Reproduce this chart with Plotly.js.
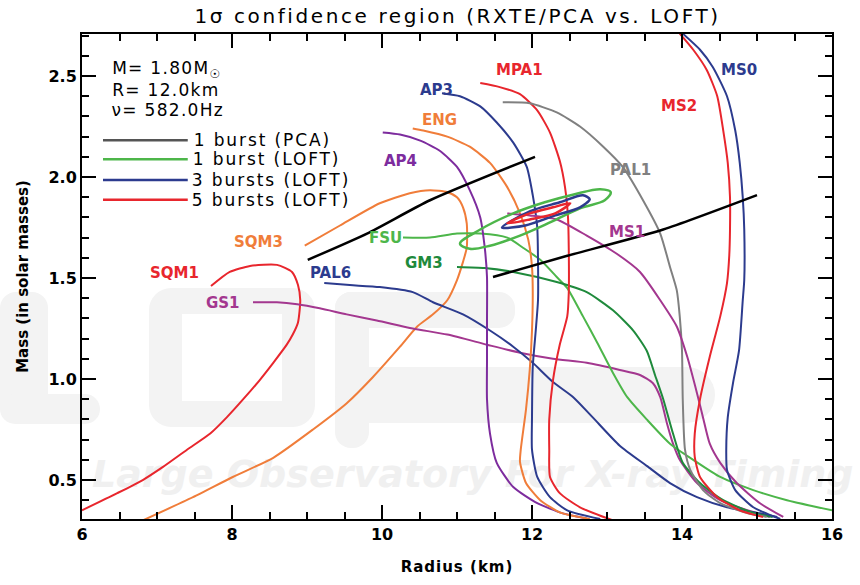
<!DOCTYPE html>
<html>
<head>
<meta charset="utf-8">
<script src="https://cdn.plot.ly/plotly-3.0.1.min.js"></script>
<style>
  html, body { margin:0; padding:0; background:#ffffff; }
  #wrap { position:relative; width:860px; height:585px; overflow:hidden; }
  #wm { position:absolute; left:92px; top:452px; white-space:nowrap; font-family:"DejaVu Sans", sans-serif; font-weight:bold; font-style:italic; font-size:38px; color:#f0f0f0; z-index:0; }
  .blk { position:absolute; background:#f3f3f3; z-index:0; border-radius:16px; }
  .ring { position:absolute; border:solid #f3f3f3; border-width:26px 33px; border-radius:22px; background:transparent; z-index:0; box-sizing:border-box; }
  #chart { position:absolute; left:0; top:0; width:860px; height:585px; z-index:1; }
</style>
</head>
<body>
<div id="wrap">
  <div class="blk" style="left:0px; top:292px; width:48px; height:130px;"></div>
  <div class="blk" style="left:0px; top:394px; width:100px; height:30px;"></div>
  <div class="ring" style="left:149px; top:288px; width:166px; height:139px;"></div>
  <div class="blk" style="left:335px; top:292px; width:34px; height:156px;"></div>
  <div class="blk" style="left:335px; top:292px; width:180px; height:36px;"></div>
  <div class="blk" style="left:335px; top:367px; width:380px; height:56px; border-radius:28px;"></div>
  <div id="wm">Large Observatory For X-ray Timing</div>
  <div id="chart"></div>
</div>
<script>
// ---- Mass-radius curves (Radius in km, Mass in solar masses) ----
const sqm1R = [7.72,7.97,8.24,8.60,8.80,8.88,8.91,8.88,8.81,8.73,8.55,8.37,8.15,7.93,7.71,7.40,7.08,6.81,6.47,6.00];
const sqm1M = [1.46,1.53,1.56,1.565,1.53,1.465,1.39,1.28,1.22,1.17,1.08,0.995,0.90,0.81,0.73,0.65,0.565,0.50,0.435,0.35];

const sqm3R = [8.97,9.44,9.97,10.37,10.64,10.87,11.00,11.08,11.13,11.13,11.08,11.00,10.87,10.68,10.47,10.24,9.88,9.53,9.08,8.55,8.01,7.48,6.81];
const sqm3M = [1.66,1.76,1.87,1.92,1.935,1.925,1.90,1.85,1.77,1.65,1.58,1.49,1.39,1.32,1.26,1.16,1.01,0.88,0.75,0.61,0.515,0.415,0.30];

const gs1R = [8.28,8.60,8.87,9.17,9.53,9.93,10.41,10.87,11.40,11.84,12.28,12.73,13.17,13.44,13.61,13.71,13.80,13.88,13.97,14.20,14.51,14.87,15.17];
const gs1M = [1.38,1.38,1.37,1.35,1.32,1.29,1.25,1.22,1.17,1.13,1.10,1.08,1.045,1.02,0.98,0.91,0.78,0.68,0.60,0.485,0.40,0.35,0.317];

const pal6R = [9.23,9.57,9.97,10.41,10.68,11.08,11.44,11.75,12.01,12.28,12.55,12.81,13.17,13.53,13.84,14.20,14.60,15.04,15.27];
const pal6M = [1.475,1.465,1.455,1.43,1.38,1.32,1.24,1.16,1.08,0.985,0.91,0.81,0.67,0.57,0.485,0.415,0.365,0.335,0.317];

const fsuR = [10.28,10.64,11.00,11.31,11.67,11.88,12.11,12.33,12.47,12.68,12.87,13.08,13.27,13.53,13.84,14.15,14.51,14.95,15.40,16.00];
const fsuM = [1.70,1.70,1.72,1.72,1.70,1.65,1.59,1.505,1.45,1.31,1.18,1.03,0.91,0.80,0.68,0.60,0.515,0.45,0.40,0.35];

const gm3R = [11.00,11.37,11.75,12.33,12.73,13.08,13.35,13.53,13.64,13.75,13.88,14.01,14.24,14.55,14.95,15.21];
const gm3M = [1.555,1.55,1.53,1.48,1.43,1.34,1.24,1.14,1.02,0.90,0.73,0.585,0.485,0.40,0.337,0.317];

const ap4R = [10.01,10.24,10.51,10.77,11.00,11.17,11.31,11.37,11.40,11.40,11.40,11.40,11.44,11.53,11.75,12.07,12.41,12.73];
const ap4M = [2.22,2.21,2.18,2.13,2.05,1.935,1.80,1.65,1.505,1.29,1.09,0.90,0.73,0.585,0.465,0.385,0.335,0.31];

const engR = [10.41,10.55,10.87,11.17,11.44,11.67,11.84,11.95,12.00,12.01,12.00,11.97,11.92,11.85,11.84,11.92,12.11,12.37,12.77];
const engM = [2.24,2.23,2.20,2.15,2.07,1.95,1.82,1.69,1.555,1.43,1.24,1.045,0.85,0.65,0.59,0.485,0.40,0.34,0.307];

const ap3R = [10.80,11.04,11.31,11.53,11.75,11.93,12.01,12.07,12.08,12.08,12.05,12.01,12.00,12.00,12.07,12.24,12.47,12.91];
const ap3M = [2.415,2.40,2.35,2.27,2.17,2.05,1.91,1.75,1.59,1.39,1.24,1.06,0.81,0.65,0.515,0.415,0.35,0.307];

const mpa1R = [11.31,11.57,11.84,12.07,12.24,12.37,12.44,12.48,12.49,12.49,12.47,12.37,12.28,12.23,12.23,12.24,12.37,12.64,13.08];
const mpa1M = [2.465,2.445,2.41,2.33,2.22,2.08,1.95,1.80,1.65,1.425,1.31,1.17,0.995,0.80,0.65,0.515,0.435,0.365,0.30];

const pal1R = [11.61,11.97,12.33,12.64,12.95,13.21,13.48,13.71,13.84,13.93,13.97,14.00,14.01,14.04,14.11,14.28,14.51,14.87,15.13];
const pal1M = [2.37,2.365,2.32,2.25,2.15,2.05,1.885,1.72,1.555,1.44,1.31,1.14,0.90,0.65,0.55,0.45,0.385,0.337,0.317];

const ms1R = [11.67,11.97,12.33,12.73,13.13,13.44,13.71,13.93,14.07,14.20,14.28,14.37,14.51,14.73,15.04,15.35];
const ms1M = [1.82,1.81,1.79,1.71,1.62,1.53,1.39,1.26,1.11,0.93,0.81,0.68,0.585,0.485,0.385,0.317];

const ms2R = [13.97,14.15,14.33,14.47,14.55,14.61,14.64,14.64,14.63,14.60,14.51,14.37,14.24,14.17,14.17,14.24,14.47,14.77,15.08];
const ms2M = [2.71,2.63,2.53,2.40,2.23,2.07,1.90,1.74,1.61,1.475,1.31,1.11,0.90,0.73,0.615,0.515,0.415,0.35,0.317];

const ms0R = [14.01,14.24,14.41,14.60,14.71,14.77,14.81,14.83,14.83,14.81,14.76,14.68,14.61,14.59,14.60,14.71,14.95,15.31];
const ms0M = [2.71,2.63,2.545,2.40,2.23,2.07,1.90,1.74,1.49,1.39,1.14,0.98,0.81,0.65,0.55,0.45,0.365,0.307];

// ---- PCA constraint lines (1 burst) ----
const pcaLoR = [11.48,12.47,13.75,15.00];
const pcaLoM = [1.505,1.61,1.74,1.91];
const pcaHiR = [9.01,9.80,10.64,12.04];
const pcaHiM = [1.59,1.72,1.885,2.10];

// ---- LOFT confidence contours ----
const loft1R = [11.04,11.31,11.75,12.17,12.57,12.91,13.05,12.97,12.64,12.24,11.84,11.44,11.17,11.04];
const loft1M = [1.67,1.74,1.82,1.875,1.915,1.94,1.925,1.885,1.845,1.775,1.71,1.66,1.645,1.67];
const loft3R = [11.60,11.97,12.37,12.68,12.77,12.64,12.31,11.91,11.60];
const loft3M = [1.75,1.83,1.875,1.91,1.89,1.85,1.81,1.76,1.75];
const loft5R = [11.67,11.97,12.28,12.51,12.31,11.97,11.67];
const loft5M = [1.77,1.82,1.85,1.87,1.82,1.79,1.77];

// ---- Labels ----
const eosNames = ['SQM1','SQM3','GS1','PAL6','FSU','GM3','AP4','ENG','AP3','MPA1','PAL1','MS1','MS2','MS0'];
const eosLabelR = [7.23,8.35,7.88,9.31,10.04,10.56,10.24,10.76,10.73,11.83,13.31,13.27,13.96,14.76];
const eosLabelM = [1.525,1.68,1.375,1.525,1.70,1.575,2.08,2.28,2.43,2.53,2.035,1.73,2.35,2.53];
const legendNames = ['1 burst (PCA)','1 burst (LOFT)','3 bursts (LOFT)','5 bursts (LOFT)'];
const infoLines = ['M= 1.80M<sub>☉</sub>','R= 12.0km','ν= 582.0Hz'];

const C = {
  red:'#e8262d', orange:'#f07d3a', blue:'#2c3b8e', purple:'#7d2c9e', magenta:'#a3378f',
  green:'#4db64a', dgreen:'#1f8a3c', gray:'#808080', black:'#000000', lgray:'#555555'
};

function line(x, y, color, w) {
  return {x:x, y:y, type:'scatter', mode:'lines', line:{color:color, width:w||2, shape:'spline', smoothing:0.6},
          hoverinfo:'skip', showlegend:false, cliponaxis:true};
}

const traces = [
  line(sqm1R, sqm1M, C.red),
  line(sqm3R, sqm3M, C.orange),
  line(gs1R, gs1M, C.magenta),
  line(pal6R, pal6M, C.blue),
  line(fsuR, fsuM, C.green),
  line(gm3R, gm3M, C.dgreen),
  line(ap4R, ap4M, C.purple),
  line(engR, engM, C.orange),
  line(ap3R, ap3M, C.blue),
  line(mpa1R, mpa1M, C.red),
  line(pal1R, pal1M, C.gray),
  line(ms1R, ms1M, C.magenta),
  line(ms2R, ms2M, C.red),
  line(ms0R, ms0M, C.blue),
  line(pcaLoR, pcaLoM, C.black, 2.5),
  line(pcaHiR, pcaHiM, C.black, 2.5),
  {x:loft1R, y:loft1M, type:'scatter', mode:'lines', line:{color:C.green, width:2.5, shape:'spline', smoothing:1}, hoverinfo:'skip', showlegend:false},
  {x:loft3R, y:loft3M, type:'scatter', mode:'lines', line:{color:C.blue, width:2.5, shape:'spline', smoothing:0.8}, hoverinfo:'skip', showlegend:false},
  {x:loft5R, y:loft5M, type:'scatter', mode:'lines', line:{color:C.red, width:2.5, shape:'spline', smoothing:0.8}, hoverinfo:'skip', showlegend:false}
];

const labelColors = [C.red,C.orange,C.magenta,C.blue,C.green,C.dgreen,C.purple,C.orange,C.blue,C.red,C.gray,C.magenta,C.red,C.blue];
const FONT = '"DejaVu Sans", sans-serif';

const annotations = eosNames.map((n,i) => ({
  x: eosLabelR[i], y: eosLabelM[i], xref:'x', yref:'y', text:n, showarrow:false,
  font:{family:FONT, size:15, color:labelColors[i], weight:'bold'}
}));
const nEos = annotations.length;

const legendColors = [C.lgray, C.green, C.blue, C.red];
const legendY = [0.781, 0.742, 0.699, 0.658];
const shapes = [];
legendNames.forEach((n,i) => {
  shapes.push({type:'line', xref:'paper', yref:'paper', x0:0.028, x1:0.141, y0:legendY[i], y1:legendY[i],
               line:{color:legendColors[i], width:2.5}});
  annotations.push({xref:'paper', yref:'paper', x:0.162, y:legendY[i], xanchor:'left', yanchor:'middle',
                    text:n, showarrow:false, font:{family:FONT, size:17, color:'#000'}});
});
const infoY = [0.926, 0.885, 0.843];
infoLines.forEach((t,i) => {
  annotations.push({xref:'paper', yref:'paper', x:0.045, y:infoY[i], xanchor:'left', yanchor:'middle',
                    text:t, showarrow:false, font:{family:FONT, size:17, color:'#000'}});
});

const axisCommon = {
  showline:true, linecolor:'#000', linewidth:2, mirror:'ticks', ticks:'inside',
  tickcolor:'#000', tickwidth:2, ticklen:14, showgrid:false, zeroline:false,
  tickfont:{family:FONT, size:16, color:'#000', weight:'bold'}, fixedrange:true
};

const layout = {
  width:860, height:585,
  margin:{l:82, r:28, t:34, b:66},
  paper_bgcolor:'rgba(0,0,0,0)', plot_bgcolor:'rgba(0,0,0,0)',
  title:{text:'1σ confidence region (RXTE/PCA vs. LOFT)', x:0.532, xanchor:'center', y:0.972, yanchor:'middle',
         font:{family:FONT, size:20, color:'#000'}},
  xaxis:Object.assign({}, axisCommon, {range:[6,16], dtick:2, tick0:6,
         minor:{dtick:0.5, ticklen:7, tickwidth:2, tickcolor:'#000', ticks:'inside'},
         title:{text:'Radius (km)', font:{family:FONT, size:15, color:'#000', weight:'bold'}, standoff:18}}),
  yaxis:Object.assign({}, axisCommon, {range:[0.307,2.708], dtick:0.5, tick0:0.5, tickformat:'.1f',
         minor:{dtick:0.1, ticklen:7, tickwidth:2, tickcolor:'#000', ticks:'inside'},
         title:{text:'Mass (in solar masses)', font:{family:FONT, size:15, color:'#000', weight:'bold'}, standoff:16}}),
  annotations:annotations,
  shapes:shapes
};

Plotly.newPlot('chart', traces, layout, {displayModeBar:false, staticPlot:true}).then(() => {
  const t = document.querySelector('#chart .gtitle');
  if (t) t.style.letterSpacing = '2.6px';
  const xt = document.querySelector('#chart .xtitle');
  if (xt) xt.style.letterSpacing = '1px';
  document.querySelectorAll('#chart g.annotation').forEach(g => {
    const idx = parseInt(g.getAttribute('data-index'), 10);
    if (idx >= nEos) {
      const tx = g.querySelector('.annotation-text');
      if (tx) tx.style.letterSpacing = (idx < nEos + legendNames.length) ? '1.9px' : '1.3px';
    }
  });
});
</script>
</body>
</html>
